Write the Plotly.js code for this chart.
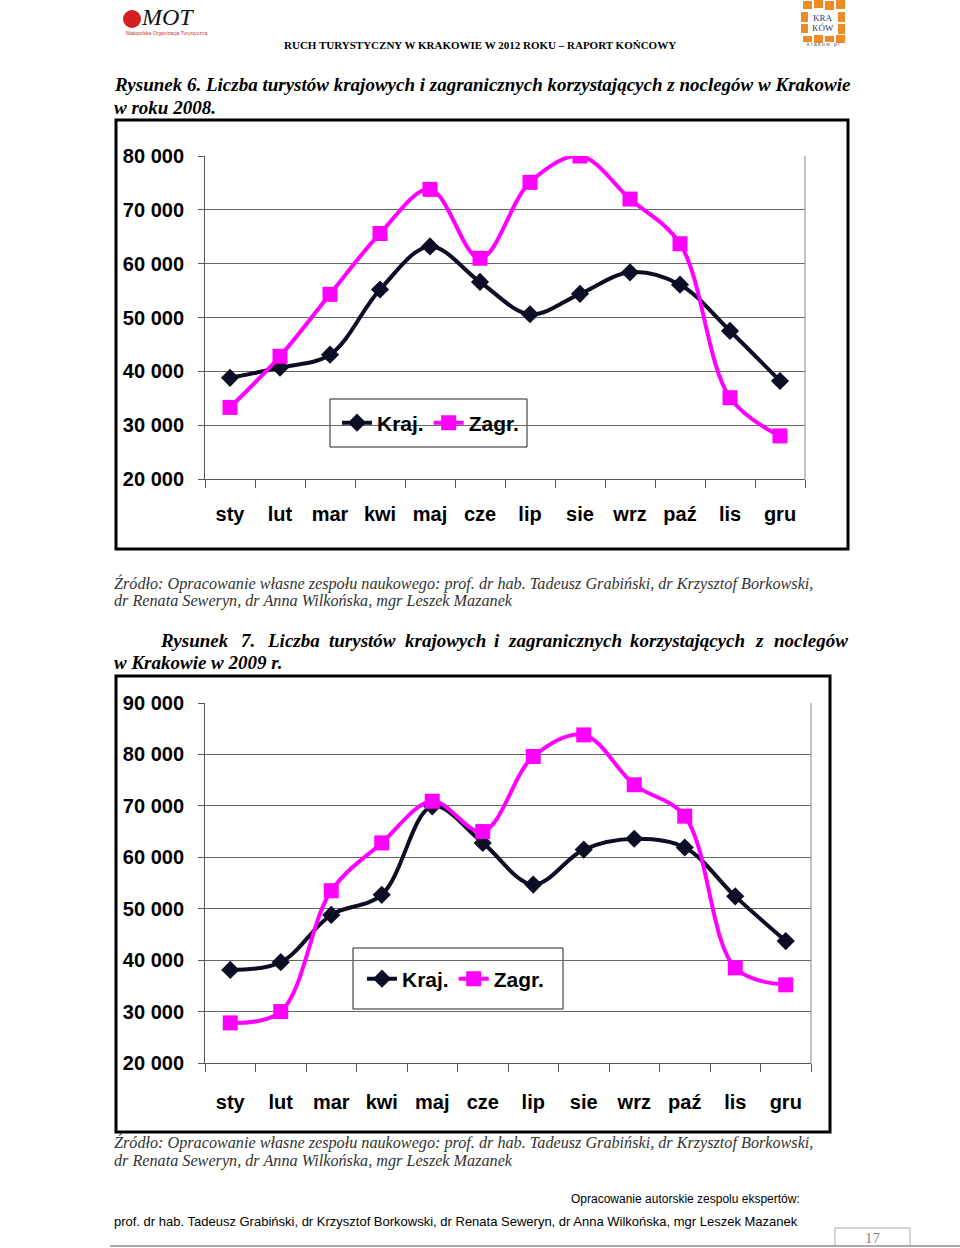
<!DOCTYPE html>
<html><head><meta charset="utf-8">
<script src="https://cdn.plot.ly/plotly-3.0.1.min.js"></script>
<style>html,body{margin:0;padding:0;background:#fff;}#page{width:960px;height:1248px;}</style>
</head><body><div id="page"></div>
<script>
// ---- data ----
const months = ["sty","lut","mar","kwi","maj","cze","lip","sie","wrz","paź","lis","gru"];
const kraj2008  = [38800,40700,43100,55200,63200,56600,50600,54400,58400,56100,47500,38200];
const zagr2008  = [33300,42800,54300,65600,73800,61000,75100,80000,72000,63700,35100,28000];
const kraj2009  = [38100,39600,48800,52700,69900,62800,54700,61500,63600,61900,52400,43700];
const zagr2009  = [27800,30000,53500,62800,70900,65000,79600,83800,74100,68000,38500,35200];
const seriesNames = ["Kraj.","Zagr."];

const W=960,H=1248;
const px=x=>x/W, py=y=>1-y/H;
const KRAJ="#0d0d26", ZAGR="#ff00ff";
const sansB='"Liberation Sans",Arial,sans-serif';
const serif='"Liberation Serif","Times New Roman",serif';
const sans='"Liberation Sans",Arial,sans-serif';

function tr(y,name,color,sym,size,xa,ya,leg){
  return {x:months,y:y,name:name,type:'scatter',mode:'lines+markers',xaxis:xa,yaxis:ya,legend:leg,
    line:{color:color,width:4,shape:'spline',smoothing:1},
    marker:{symbol:sym,size:size,color:color},hoverinfo:'skip'};
}
const data=[
  tr(kraj2008,seriesNames[0],KRAJ,'diamond',14,'x','y','legend'),
  tr(zagr2008,seriesNames[1],ZAGR,'square',15,'x','y','legend'),
  tr(kraj2009,seriesNames[0],KRAJ,'diamond',14,'x2','y2','legend2'),
  tr(zagr2009,seriesNames[1],ZAGR,'square',15,'x2','y2','legend2')
];

const tickF={family:sansB,size:20,color:'#000',weight:'bold'};
function xax(d,anchor,so){return {domain:d,anchor:anchor,type:'category',range:[-0.5,11.5],tickangle:0,
  showline:true,linecolor:'#555',linewidth:1,ticks:'outside',tickson:'boundaries',ticklen:8,tickcolor:'#555',
  showgrid:false,tickfont:tickF,ticklabelstandoff:so,fixedrange:true};}
function yax(d,anchor,r){return {domain:d,anchor:anchor,range:r,dtick:10000,tickformat:',d',
  showline:true,linecolor:'#555',linewidth:1,ticks:'outside',ticklen:6,tickcolor:'#555',
  showgrid:true,gridcolor:'#666',gridwidth:1,zeroline:false,
  tickfont:tickF,ticklabelstandoff:10,fixedrange:true};}

const ann=[];
function t(x,y,text,font,xa,ya){ann.push({xref:'paper',yref:'paper',x:px(x),y:py(y),text:text,showarrow:false,
  xanchor:xa||'left',yanchor:ya||'middle',font:font});}
const capF={family:serif,size:19,color:'#000',style:'italic',weight:'bold'};
const srcF={family:serif,size:16.2,color:'#333',style:'italic'};

// header
t(480,45,'RUCH TURYSTYCZNY W KRAKOWIE W 2012 ROKU – RAPORT KOŃCOWY',{family:serif,size:11,color:'#000',weight:'bold'},'center');
t(139,17,'MOT',{family:serif,size:24,color:'#111',style:'italic'},'left');
t(124,33,'Małopolska Organizacja Turystyczna',{family:sans,size:5,color:'#c33'},'left');
t(823,18,'KRA',{family:serif,size:9,color:'#2a3a6a'},'center');
t(823,28,'KÓW',{family:serif,size:9,color:'#2a3a6a'},'center');
t(823,44,'k r a k o w . p l',{family:sans,size:5,color:'#555'},'center');

// captions
t(112,85,'Rysunek 6. Liczba turystów krajowych i zagranicznych korzystających z noclegów w Krakowie',capF);
t(112,107,'w roku 2008.',capF);
t(112,583,'Źródło: Opracowanie własne zespołu naukowego: prof. dr hab. Tadeusz Grabiński, dr Krzysztof Borkowski,',srcF);
t(112,601,'dr Renata Seweryn, dr Anna Wilkońska, mgr Leszek Mazanek',srcF);
const w7=[['Rysunek',194],['7.',248],['Liczba',293],['turystów',362],['krajowych',445],['i',497],['zagranicznych',565],['korzystających',687],['z',759],['noclegów',811]];
w7.forEach(w=>t(w[1],640,w[0],capF,'center'));
t(112,662,'w Krakowie w 2009 r.',capF);
t(112,1142,'Źródło: Opracowanie własne zespołu naukowego: prof. dr hab. Tadeusz Grabiński, dr Krzysztof Borkowski,',srcF);
t(112,1161,'dr Renata Seweryn, dr Anna Wilkońska, mgr Leszek Mazanek',srcF);
t(569,1199,'Opracowanie autorskie zespolu ekspertów:',{family:sans,size:12,color:'#000'});
t(112,1221,'prof. dr hab. Tadeusz Grabiński, dr Krzysztof Borkowski, dr Renata Seweryn, dr Anna Wilkońska, mgr Leszek Mazanek',{family:sans,size:13,color:'#000'});
t(873,1248,'17',{family:serif,size:15,color:'#888'},'center','bottom');

const shapes=[];
function rect(x0,y0,x1,y1,line,fill){shapes.push({type:'rect',xref:'paper',yref:'paper',x0:px(x0),x1:px(x1),y0:py(y0),y1:py(y1),line:line,fillcolor:fill||'rgba(0,0,0,0)',layer:'below'});}
function lineS(x0,y0,x1,y1,line){shapes.push({type:'line',xref:'paper',yref:'paper',x0:px(x0),x1:px(x1),y0:py(y0),y1:py(y1),line:line});}
// logos
shapes.push({type:'circle',xref:'paper',yref:'paper',x0:px(123),x1:px(141),y0:py(28),y1:py(10),line:{width:0},fillcolor:'#d42020'});
[[803,1,812,9],[814,0,823,8],[825,1,834,10],[836,0,845,9],[801,12,808,22],[838,12,845,22],[801,24,808,33],[838,24,845,34],[803,36,812,42],[814,35,823,43],[825,36,834,42],[836,35,845,43]]
 .forEach(r=>rect(r[0],r[1],r[2],r[3],{width:0},'#f08a24'));
// chart frames
rect(116,120,848,549,{color:'#000',width:3});
rect(116,676,830,1132,{color:'#000',width:3});
// plot area right borders
lineS(805,156,805,479,{color:'#888',width:1});
lineS(811,703,811,1063,{color:'#888',width:1});
// legend boxes
rect(330,399,527,447,{color:'#222',width:1},'#fff');
rect(353,948,563,1009,{color:'#222',width:1},'#fff');
// footer
lineS(110,1246,960,1246,{color:'#aaa',width:2});
lineS(835,1228,910,1228,{color:'#aaa',width:1});
lineS(835,1228,835,1246,{color:'#aaa',width:1});
lineS(910,1228,910,1246,{color:'#aaa',width:1});

const legF={family:sansB,size:21,color:'#000',weight:'bold'};
const layout={width:W,height:H,margin:{l:0,r:0,t:0,b:0},paper_bgcolor:'#fff',plot_bgcolor:'#fff',
  separators:', ',showlegend:true,
  xaxis:xax([px(205),px(805)],'y',17),
  yaxis:yax([py(479),py(156)],'x',[20000,80000]),
  xaxis2:xax([px(205),px(811)],'y2',21),
  yaxis2:yax([py(1063),py(703)],'x2',[20000,90000]),
  legend:{x:px(337),y:py(423),xanchor:'left',yanchor:'middle',orientation:'h',bgcolor:'rgba(0,0,0,0)',font:legF,itemwidth:30,tracegroupgap:0},
  legend2:{x:px(362),y:py(979),xanchor:'left',yanchor:'middle',orientation:'h',bgcolor:'rgba(0,0,0,0)',font:legF,itemwidth:30,tracegroupgap:0},
  annotations:ann,shapes:shapes};
Plotly.newPlot('page',data,layout,{staticPlot:true,displayModeBar:false});
</script></body></html>
